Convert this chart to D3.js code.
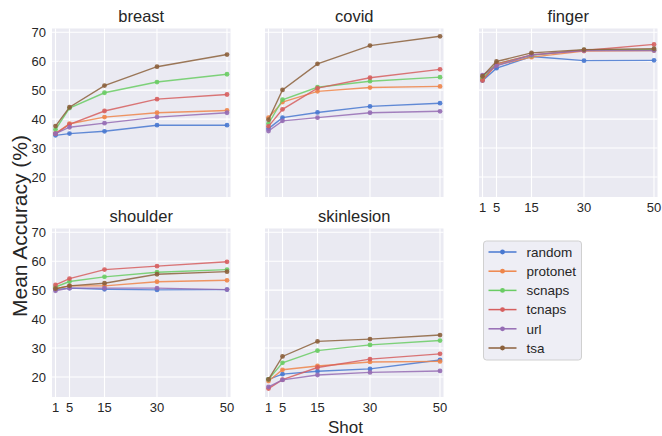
<!DOCTYPE html>
<html>
<head>
<meta charset="utf-8">
<script src="https://cdn.jsdelivr.net/npm/d3@7"></script>
<style>
  body { margin: 0; background: #fff; }
  text { font-family: "Liberation Sans", Arial, sans-serif; fill: #262626; }
</style>
</head>
<body>
<div id="chart"></div>
<script>
// shot counts on the x axis
const shots = [1, 5, 15, 30, 50];
const xTicks = [1, 5, 15, 30, 50];
const yTicks = [20, 30, 40, 50, 60, 70];

const methods = ['random', 'protonet', 'scnaps', 'tcnaps', 'url', 'tsa'];
const colors = ['#4878d0', '#ee854a', '#6acc64', '#d65f5f', '#956cb4', '#8c613c'];

const datasets = ['breast', 'covid', 'finger', 'shoulder', 'skinlesion'];

// mean accuracy per method, values in the order of `shots`
const breast = {
    random:   [34.4, 35.0, 35.8, 37.9, 37.9],
    protonet: [35.0, 38.4, 40.7, 42.2, 43.0],
    scnaps:   [36.4, 43.8, 49.1, 52.8, 55.5],
    tcnaps:   [35.0, 38.2, 42.8, 46.9, 48.5],
    url:      [35.0, 37.2, 38.6, 40.7, 42.2],
    tsa:      [37.6, 44.1, 51.6, 58.1, 62.3]
};
const covid = {
    random:   [36.7, 40.5, 42.3, 44.4, 45.5],
    protonet: [40.5, 45.9, 49.6, 50.9, 51.3],
    scnaps:   [38.4, 46.7, 51.0, 53.1, 54.5],
    tcnaps:   [37.5, 43.4, 50.7, 54.3, 57.2],
    url:      [35.9, 39.4, 40.5, 42.2, 42.7],
    tsa:      [39.8, 50.1, 59.1, 65.4, 68.6]
};
const finger = {
    random:   [53.3, 57.6, 61.6, 60.2, 60.3],
    protonet: [53.8, 58.7, 61.4, 63.5, 63.7],
    scnaps:   [54.1, 59.1, 62.0, 63.9, 64.0],
    tcnaps:   [53.3, 59.1, 62.2, 63.7, 65.8],
    url:      [55.2, 58.4, 62.2, 63.7, 63.7],
    tsa:      [54.8, 59.9, 62.9, 64.0, 64.3]
};
const shoulder = {
    random:   [50.2, 50.7, 50.3, 50.1, 50.2],
    protonet: [50.5, 51.5, 51.5, 52.9, 53.4],
    scnaps:   [51.1, 53.0, 54.6, 56.2, 57.1],
    tcnaps:   [51.8, 54.0, 57.1, 58.3, 59.8],
    url:      [49.8, 50.7, 50.7, 50.7, 50.2],
    tsa:      [50.5, 51.5, 52.4, 55.5, 56.4]
};
const skinlesion = {
    random:   [19.2, 21.0, 22.0, 22.8, 25.9],
    protonet: [18.6, 22.5, 23.8, 25.2, 25.4],
    scnaps:   [19.2, 24.9, 29.1, 31.1, 32.6],
    tcnaps:   [16.0, 19.1, 23.3, 26.2, 28.0],
    url:      [16.6, 19.0, 20.7, 21.6, 22.1],
    tsa:      [19.2, 27.1, 32.3, 33.1, 34.5]
};
const results = { breast, covid, finger, shoulder, skinlesion };

const width = 662, height = 436;
const pw = 178.5, ph = 168.5;
const colX = [52, 265, 479];
const rowY = [28.5, 228.5];

const svg = d3.select('#chart').append('svg')
    .attr('width', width)
    .attr('height', height);

const x = d3.scaleLinear().domain([0, 51]).range([0, pw]);
const y = d3.scaleLinear().domain([13.1, 71.3]).range([ph, 0]);

const line = d3.line()
    .x((d, i) => x(shots[i]))
    .y(d => y(d));

datasets.forEach((name, k) => {
    const col = k % 3, row = Math.floor(k / 3);
    const g = svg.append('g')
        .attr('transform', `translate(${colX[col]},${rowY[row]})`);

    g.append('rect')
        .attr('width', pw).attr('height', ph)
        .attr('fill', '#eaeaf2');

    // grid
    g.selectAll('.gx').data(xTicks).enter().append('line')
        .attr('x1', d => x(d)).attr('x2', d => x(d))
        .attr('y1', 0).attr('y2', ph)
        .attr('stroke', '#fff').attr('stroke-width', 1.1);
    g.selectAll('.gy').data(yTicks).enter().append('line')
        .attr('x1', 0).attr('x2', pw)
        .attr('y1', d => y(d)).attr('y2', d => y(d))
        .attr('stroke', '#fff').attr('stroke-width', 1.1);

    // title
    g.append('text')
        .attr('x', pw / 2).attr('y', -7)
        .attr('text-anchor', 'middle')
        .style('font-size', '16.5px')
        .text(name);

    // y tick labels only on the left column
    if (col === 0) {
        g.selectAll('.yl').data(yTicks).enter().append('text')
            .attr('x', -6).attr('y', d => y(d))
            .attr('dy', '0.35em')
            .attr('text-anchor', 'end')
            .style('font-size', '13px')
            .text(d => d);
    }
    // x tick labels on the bottom row and on finger
    if (row === 1 || name === 'finger') {
        g.selectAll('.xl').data(xTicks).enter().append('text')
            .attr('x', d => x(d)).attr('y', ph + 10)
            .attr('dy', '0.35em')
            .attr('text-anchor', 'middle')
            .style('font-size', '13px')
            .text(d => d);
    }

    methods.forEach((m, i) => {
        const vals = results[name][m];
        g.append('path')
            .datum(vals)
            .attr('d', line)
            .attr('fill', 'none')
            .attr('stroke', colors[i])
            .attr('stroke-width', 1.4)
            .attr('stroke-opacity', 0.85);
        g.selectAll('.pt-' + m).data(vals).enter().append('circle')
            .attr('cx', (d, j) => x(shots[j]))
            .attr('cy', d => y(d))
            .attr('r', 2.4)
            .attr('fill', colors[i])
            .attr('fill-opacity', 0.9);
    });
});

// axis labels
svg.append('text')
    .attr('transform', 'translate(20,226) rotate(-90)')
    .attr('text-anchor', 'middle')
    .attr('dy', '0.35em')
    .style('font-size', '21px')
    .text('Mean Accuracy (%)');

svg.append('text')
    .attr('x', 345.5).attr('y', 433)
    .attr('text-anchor', 'middle')
    .style('font-size', '17px')
    .text('Shot');

// legend
const lg = svg.append('g').attr('transform', 'translate(483.5,241)');
lg.append('rect')
    .attr('width', 98).attr('height', 119)
    .attr('rx', 3)
    .attr('fill', '#eaeaf2').attr('fill-opacity', 0.8)
    .attr('stroke', '#d0d0d0');
methods.forEach((m, i) => {
    const yy = 11 + i * 19.2;
    lg.append('line')
        .attr('x1', 5).attr('x2', 33)
        .attr('y1', yy).attr('y2', yy)
        .attr('stroke', colors[i]).attr('stroke-width', 1.5);
    lg.append('circle')
        .attr('cx', 19).attr('cy', yy).attr('r', 2.4)
        .attr('fill', colors[i]);
    lg.append('text')
        .attr('x', 43).attr('y', yy)
        .attr('dy', '0.35em')
        .style('font-size', '13.5px')
        .text(m);
});
</script>
</body>
</html>
